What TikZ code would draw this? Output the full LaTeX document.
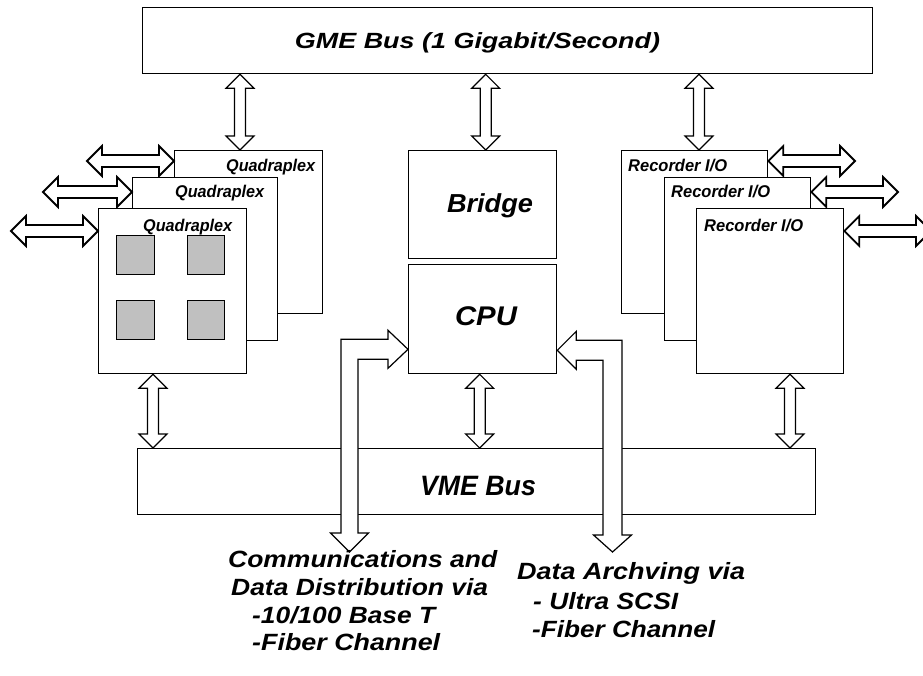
\documentclass[tikz,border=0pt]{standalone}
\usepackage{fontspec}
\setmainfont{Liberation Sans}
\usetikzlibrary{calc}
\definecolor{chipgray}{RGB}{192,192,192}
\newcommand\fitw[2]{\resizebox{#1pt}{\height}{#2}}
% vertical double block arrow: #1 top tip, #2 bottom tip
\newcommand\vdouble[2]{%
  \draw[blk] let \p1=(#1), \p2=(#2) in
    (\x1,\y1) -- (\x1+14pt,\y1-14pt) -- (\x1+5.5pt,\y1-14pt) -- (\x1+5.5pt,\y2+14pt)
    -- (\x1+14pt,\y2+14pt) -- (\x1,\y2) -- (\x1-14pt,\y2+14pt) -- (\x1-5.5pt,\y2+14pt)
    -- (\x1-5.5pt,\y1-14pt) -- (\x1-14pt,\y1-14pt) -- cycle;}
% horizontal double block arrow: #1 left tip, #2 right tip
\newcommand\hdouble[2]{%
  \draw[blkh] let \p1=(#1), \p2=(#2) in
    (\x1,\y1) -- (\x1+15pt,\y1+15pt) -- (\x1+15pt,\y1+6pt) -- (\x2-15pt,\y1+6pt)
    -- (\x2-15pt,\y1+15pt) -- (\x2,\y1) -- (\x2-15pt,\y1-15pt) -- (\x2-15pt,\y1-6pt)
    -- (\x1+15pt,\y1-6pt) -- (\x1+15pt,\y1-15pt) -- cycle;}
\begin{document}
\begin{tikzpicture}[x=1pt,y=-1pt,
  box/.style={draw, fill=white, line width=1.3pt, inner sep=0pt, anchor=north west},
  chip/.style={box, fill=chipgray},
  blk/.style={draw, fill=white, line width=1.2pt, line join=miter},
  blkh/.style={blk, line width=1.8pt},
  lbl/.style={font=\bfseries\itshape, inner sep=0pt, anchor=base west},
  ctr/.style={lbl, anchor=base}]
\clip (0,0) rectangle (923,675);
\fill[white] (0,0) rectangle (923,675);

% GME bus
\node[box, minimum width=730pt, minimum height=66pt] (gme) at (142,7) {};
\node[ctr] (gmet) at (477.5,48.5) {\fontsize{22}{24}\selectfont\fitw{365}{GME Bus (1 Gigabit/Second)}};

% Quadraplex stack
\node[box, minimum width=148pt, minimum height=163pt] (qback) at (174,150) {};
\node[lbl] (qbackt) at (226,171) {\fontsize{17}{18}\selectfont\fitw{89}{Quadraplex}};
\coordinate (ql1) at (87,161);
\hdouble{ql1}{$(qback.north west)+(0,11)$}
\node[box, minimum width=145pt, minimum height=163pt] (qmid) at (132,177) {};
\node[lbl] (qmidt) at (175,197) {\fontsize{17}{18}\selectfont\fitw{89}{Quadraplex}};
\coordinate (ql2) at (43,192);
\hdouble{ql2}{$(qmid.north west)+(0,15)$}
\node[box, minimum width=148pt, minimum height=165pt] (qfront) at (98,208) {};
\node[lbl] (qfrontt) at (143,231) {\fontsize{17}{18}\selectfont\fitw{89}{Quadraplex}};
\coordinate (ql3) at (11,231);
\hdouble{ql3}{$(qfront.north west)+(0,23)$}
\node[chip, minimum width=38pt, minimum height=39pt] (c1) at (116,235) {};
\node[chip, minimum width=37pt, minimum height=39pt] (c2) at (187,235) {};
\node[chip, minimum width=38pt, minimum height=39pt] (c3) at (116,300) {};
\node[chip, minimum width=37pt, minimum height=39pt] (c4) at (187,300) {};

% Recorder stack
\node[box, minimum width=146pt, minimum height=163pt] (rback) at (621,150) {};
\node[lbl] (rbackt) at (628,171) {\fontsize{17}{18}\selectfont\fitw{99}{Recorder I/O}};
\coordinate (rr1) at (855,161);
\hdouble{$(rback.north east)+(0,11)$}{rr1}
\node[box, minimum width=146pt, minimum height=163pt] (rmid) at (664,177) {};
\node[lbl] (rmidt) at (671,197) {\fontsize{17}{18}\selectfont\fitw{99}{Recorder I/O}};
\coordinate (rr2) at (898,192);
\hdouble{$(rmid.north east)+(0,15)$}{rr2}
\node[box, minimum width=147pt, minimum height=165pt] (rfront) at (696,208) {};
\node[lbl] (rfrontt) at (704,231) {\fontsize{17}{18}\selectfont\fitw{99}{Recorder I/O}};
\coordinate (rr3) at (931,231);
\hdouble{$(rfront.north east)+(0,23)$}{rr3}

% Bridge and CPU
\node[box, minimum width=148pt, minimum height=108pt] (bridge) at (408,150) {};
\node[ctr] (bridget) at (490,212) {\fontsize{26}{28}\selectfont\fitw{86}{Bridge}};
\node[box, minimum width=148pt, minimum height=109pt] (cpu) at (408,264) {};
\node[ctr] (cput) at (486,325) {\fontsize{27}{28}\selectfont\fitw{62}{CPU}};

% VME bus
\node[box, minimum width=678pt, minimum height=66pt] (vme) at (137,448) {};
\node[ctr] (vmet) at (478,495) {\fontsize{28}{30}\selectfont\fitw{116}{VME Bus}};

% GME connections
\coordinate (qa) at ($(qback.north west)+(66,0)$);
\coordinate (ba) at ($(bridge.north)+(3,0)$);
\coordinate (ra) at ($(rback.north west)+(78,0)$);
\vdouble{gme.south -| qa}{qa}
\vdouble{gme.south -| ba}{ba}
\vdouble{gme.south -| ra}{ra}

% VME connections
\coordinate (qb) at ($(qfront.south west)+(55,0)$);
\coordinate (cb) at ($(cpu.south)+(-3,0)$);
\coordinate (rb) at ($(rfront.south west)+(94,0)$);
\vdouble{qb}{vme.north -| qb}
\vdouble{cb}{vme.north -| cb}
\vdouble{rb}{vme.north -| rb}

% L-shaped arrows to CPU
\coordinate (commEnd) at (349.5,552);
\coordinate (archEnd) at (612.5,552);
\draw[blk] let \p1=($(cpu.south west)+(0,-25)$), \p2=(commEnd) in
  (\x1,\y1) -- (\x1-20pt,\y1+19pt) -- (\x1-20pt,\y1+10pt) -- (\x2-8.5pt,\y1+10pt)
  -- (\x2-8.5pt,\y2+19pt) -- (\x2-19pt,\y2+19pt) -- (\x2,\y2) -- (\x2+19pt,\y2+19pt)
  -- (\x2+8.5pt,\y2+19pt) -- (\x2+8.5pt,\y1-10pt) -- (\x1-20pt,\y1-10pt)
  -- (\x1-20pt,\y1-19pt) -- cycle;
\draw[blk] let \p1=($(cpu.south east)+(0,-24)$), \p2=(archEnd) in
  (\x1,\y1) -- (\x1+19pt,\y1+19pt) -- (\x1+19pt,\y1+10pt) -- (\x2+9.5pt,\y1+10pt)
  -- (\x2+9.5pt,\y2+17pt) -- (\x2+19pt,\y2+17pt) -- (\x2,\y2) -- (\x2-19pt,\y2+17pt)
  -- (\x2-9.5pt,\y2+17pt) -- (\x2-9.5pt,\y1-10pt) -- (\x1+19pt,\y1-10pt)
  -- (\x1+19pt,\y1-19pt) -- cycle;

% Bottom texts
\node[lbl] (comm1) at (228,567) {\fontsize{23.5}{24}\selectfont\fitw{269}{Communications and}};
\node[lbl] (comm2) at (231,595) {\fontsize{23.5}{24}\selectfont\fitw{257}{Data Distribution via}};
\node[lbl] (comm3) at (252,623) {\fontsize{23.5}{24}\selectfont\fitw{183}{-10/100 Base T}};
\node[lbl] (comm4) at (252,650) {\fontsize{23.5}{24}\selectfont\fitw{188}{-Fiber Channel}};
\node[lbl] (arch1) at (517,579) {\fontsize{23.5}{24}\selectfont\fitw{228}{Data Archving via}};
\node[lbl] (arch2) at (533,609) {\fontsize{23.5}{24}\selectfont\fitw{145}{- Ultra SCSI}};
\node[lbl] (arch3) at (532,637) {\fontsize{23.5}{24}\selectfont\fitw{183}{-Fiber Channel}};
\end{tikzpicture}
\end{document}
